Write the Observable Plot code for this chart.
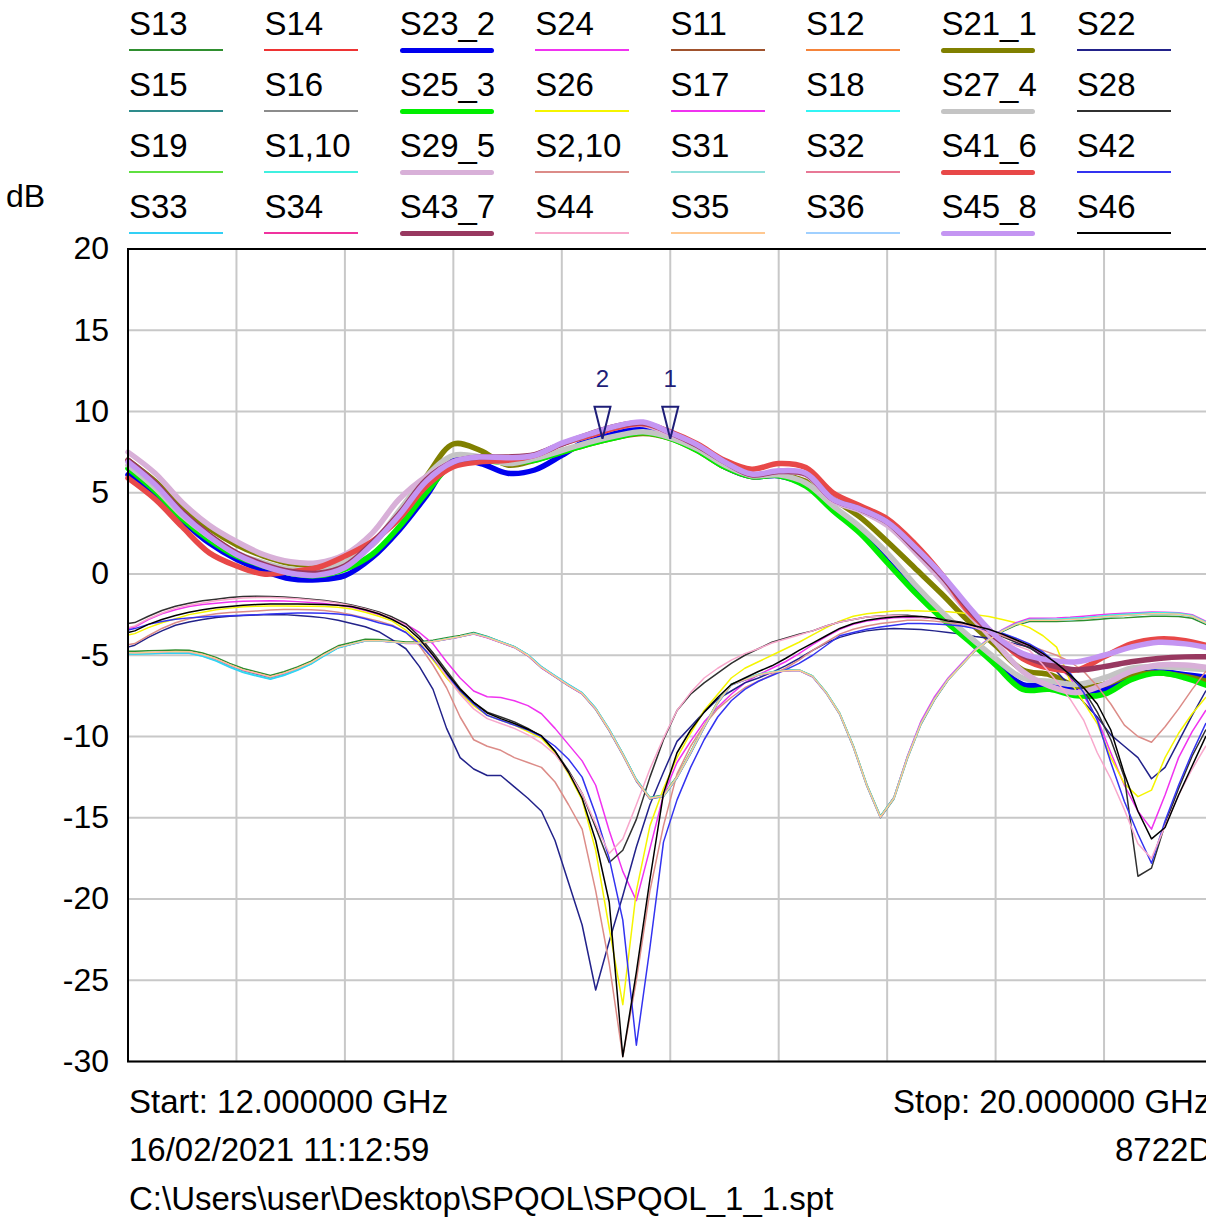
<!DOCTYPE html>
<html>
<head>
<meta charset="utf-8">
<script src="https://cdn.jsdelivr.net/npm/d3@7"></script>
<script src="https://cdn.jsdelivr.net/npm/@observablehq/plot@0.6"></script>
<style>
  html, body { margin: 0; padding: 0; background: #fff; overflow: hidden; }
  body { width: 1206px; height: 1221px; position: relative; font-family: "Liberation Sans", Arial, sans-serif; color: #000; }
  #legend { position: absolute; left: 0; top: 0; width: 1206px; height: 236px; }
  .lg-name, .foot, .unit { position: absolute; white-space: nowrap; }
  .lg-name, .foot { font-size: 33px; line-height: 33px; }
  .unit { font-size: 32px; line-height: 32px; }
  .lg-swatch { position: absolute; width: 94px; }
  #chart { position: absolute; left: 0; top: 236px; width: 1224px; }
  #chart svg { max-width: none !important; }
</style>
</head>
<body>
<div id="legend"></div>
<div id="chart"></div>
<div id="footer"></div>
<script>
// Sweep grids (GHz): transmission traces every 0.2 GHz, reflection / isolation traces every 0.1 GHz
const sweepThick = d3.range(41).map(i => +(12 + 0.2 * i).toFixed(2));
const sweepThin = [12.0, ...d3.range(80).map(i => +(12.05 + 0.1 * i).toFixed(2))];

// Trace names and colours, in legend order (4 rows x 8 columns)
const legendNames = ["S13","S14","S23_2","S24","S11","S12","S21_1","S22",
                     "S15","S16","S25_3","S26","S17","S18","S27_4","S28",
                     "S19","S1,10","S29_5","S2,10","S31","S32","S41_6","S42",
                     "S33","S34","S43_7","S44","S35","S36","S45_8","S46"];
const legendColors = ["#2f8f2f","#ee3333","#0000ee","#f033f0","#a0522d","#f5843a","#808000","#22228a",
                      "#2e8c8c","#8c8c8c","#00ee00","#f5f500","#f033f0","#33f5f5","#c4c4c4","#303030",
                      "#5fe040","#40f0e0","#d8b0d8","#dc8c88","#90e0dc","#e87896","#e84848","#3333f0",
                      "#33d0f5","#f0339f","#983860","#f8a8cc","#ffc890","#a0d0ff","#c495f2","#000000"];

// Y axis ticks (dB) and vertical divisions (GHz)
const yTicks = [20, 15, 10, 5, 0, -5, -10, -15, -20, -25, -30];
const xDivisions = [12, 12.8, 13.6, 14.4, 15.2, 16, 16.8, 17.6, 18.4, 19.2, 20];

// Markers
const markerFreq = [16.0, 15.5];
const markerDb = [8.32, 8.32];
const markerLabel = ["1", "2"];

// Text under the graticule
const footerStart = "Start: 12.000000 GHz";
const footerStop = "Stop: 20.000000 GHz";
const footerDate = "16/02/2021 11:12:59";
const footerModel = "8722D";
const footerFile = "C:\\Users\\user\\Desktop\\SPQOL\\SPQOL_1_1.spt";

// ---- transmission traces (dB), on sweepThick ----
const s21_1 = [7.0, 5.7, 4.1, 2.8, 1.8, 1.1, 0.65, 0.6, 1.0, 1.8,
               3.8, 6.0, 8.0, 7.6, 6.7, 7.0, 7.5, 8.0, 8.4, 8.65,
               8.35, 7.6, 6.6, 6.0, 6.1, 5.7, 4.6, 3.5, 2.0, 0.4,
               -1.2, -2.9, -4.4, -5.9, -6.2, -6.9, -6.8, -6.2, -6.1, -6.3,
               -6.7];
const s23_2 = [6.1, 4.9, 3.3, 1.9, 0.9, 0.2, -0.3, -0.35, -0.1, 1.0,
               2.7, 4.8, 7.0, 6.8, 6.2, 6.4, 7.3, 8.3, 8.8, 9.0,
               8.5, 7.7, 6.6, 6.0, 6.05, 5.45, 4.0, 2.6, 0.8, -1.0,
               -2.6, -4.0, -5.5, -6.8, -6.8, -7.2, -7.1, -6.3, -6.0, -6.2,
               -6.4];
const s25_3 = [6.5, 5.1, 3.4, 2.1, 1.1, 0.5, 0.05, -0.1, 0.3, 1.2,
               2.9, 5.0, 6.8, 7.0, 6.85, 7.0, 7.5, 8.0, 8.4, 8.7,
               8.35, 7.6, 6.6, 6.0, 6.05, 5.4, 3.9, 2.5, 0.7, -1.1,
               -2.7, -4.1, -5.6, -7.1, -7.1, -7.5, -7.4, -6.5, -6.1, -6.4,
               -7.0];
const s27_4 = [6.7, 5.3, 3.6, 2.3, 1.3, 0.7, 0.3, 0.3, 0.8, 1.8,
               3.9, 6.0, 7.3, 7.2, 6.8, 7.1, 7.6, 8.1, 8.5, 8.75,
               8.4, 7.7, 6.7, 6.05, 6.1, 5.6, 4.2, 2.9, 1.3, -0.6,
               -2.3, -3.8, -5.2, -6.4, -6.6, -6.8, -6.4, -5.8, -5.7, -5.8,
               -5.9];
const s29_5 = [7.5, 6.2, 4.4, 3.0, 2.0, 1.2, 0.75, 0.7, 1.2, 2.5,
               4.6, 6.0, 6.9, 7.1, 7.1, 7.3, 8.0, 8.5, 9.0, 9.2,
               8.6, 7.9, 6.9, 6.1, 6.3, 6.1, 4.5, 3.9, 3.0, 1.4,
               -0.4, -2.4, -4.2, -6.0, -6.9, -7.3, -6.8, -6.0, -5.6, -5.6,
               -5.8];
const s41_6 = [5.9, 4.6, 2.9, 1.3, 0.5, 0.0, 0.15, 0.4, 1.1, 2.0,
               3.4, 5.4, 6.6, 6.9, 7.0, 7.3, 8.0, 8.5, 9.0, 9.25,
               8.75, 8.0, 7.0, 6.45, 6.8, 6.55, 5.0, 4.2, 3.4, 1.9,
               0.0, -2.3, -3.8, -5.2, -5.8, -5.9, -5.1, -4.3, -4.0, -4.1,
               -4.5];
const s43_7 = [7.0, 5.6, 3.8, 2.4, 1.3, 0.6, 0.15, 0.05, 0.5, 1.9,
               3.7, 5.8, 6.9, 7.2, 7.2, 7.35, 8.0, 8.6, 9.1, 9.3,
               8.7, 7.9, 6.9, 6.1, 6.3, 6.15, 4.6, 4.0, 3.2, 1.6,
               -0.1, -2.1, -3.9, -5.0, -5.6, -5.9, -5.7, -5.4, -5.2, -5.1,
               -5.1];
const s45_8 = [6.9, 5.5, 3.7, 2.3, 1.2, 0.5, 0.05, -0.07, 0.4, 1.8,
               3.6, 5.7, 6.9, 7.2, 7.15, 7.3, 8.05, 8.6, 9.1, 9.35,
               8.7, 7.95, 6.9, 6.15, 6.35, 6.2, 4.6, 4.0, 3.2, 1.7,
               0.0, -2.0, -3.8, -4.9, -5.3, -5.4, -5.0, -4.5, -4.2, -4.3,
               -4.6];

// ---- isolation traces (dB), on sweepThin ----
const s13 = [-4.75, -4.76, -4.73, -4.7, -4.68, -4.69, -4.86, -5.13, -5.5, -5.82,
             -6.03, -6.25, -6.02, -5.72, -5.36, -4.86, -4.42, -4.22, -4.02, -4.03,
             -4.1, -4.18, -4.17, -4.07, -3.92, -3.78, -3.6, -3.85, -4.17, -4.47,
             -4.98, -5.72, -6.28, -6.82, -7.33, -8.27, -9.58, -11.05, -12.65, -13.75,
             -13.6, -12.45, -10.95, -9.36, -7.86, -6.78, -6.48, -6.19, -6.04, -5.94,
             -5.91, -6.28, -7.27, -8.57, -10.56, -12.95, -14.9, -13.75, -11.25, -9.16,
             -7.66, -6.48, -5.58, -4.7, -4.07, -3.55, -3.16, -2.92, -2.93, -2.93,
             -2.9, -2.86, -2.8, -2.73, -2.7, -2.65, -2.6, -2.6, -2.62, -2.72, -3.1];
const s15 = [-4.88, -4.89, -4.86, -4.83, -4.8, -4.81, -4.98, -5.26, -5.63, -5.96,
             -6.17, -6.38, -6.15, -5.84, -5.48, -4.97, -4.52, -4.31, -4.11, -4.11,
             -4.18, -4.26, -4.26, -4.16, -4.01, -3.86, -3.68, -3.91, -4.22, -4.52,
             -5.03, -5.78, -6.33, -6.88, -7.38, -8.34, -9.65, -11.15, -12.75, -13.85,
             -13.7, -12.55, -11.05, -9.45, -7.95, -6.84, -6.53, -6.22, -6.06, -5.96,
             -5.93, -6.32, -7.33, -8.64, -10.65, -13.05, -15.0, -13.85, -11.35, -9.25,
             -7.74, -6.53, -5.62, -4.71, -4.05, -3.49, -3.08, -2.82, -2.82, -2.81,
             -2.77, -2.72, -2.65, -2.57, -2.52, -2.47, -2.42, -2.43, -2.46, -2.58, -2.98];
const s17 = [-4.87, -4.88, -4.85, -4.82, -4.79, -4.8, -4.97, -5.24, -5.6, -5.92,
             -6.12, -6.34, -6.12, -5.82, -5.47, -4.97, -4.52, -4.32, -4.12, -4.12,
             -4.19, -4.27, -4.27, -4.17, -4.02, -3.87, -3.69, -3.92, -4.22, -4.52,
             -5.02, -5.77, -6.32, -6.87, -7.37, -8.32, -9.62, -11.12, -12.72, -13.82,
             -13.67, -12.52, -11.02, -9.42, -7.92, -6.82, -6.52, -6.22, -6.07, -5.97,
             -5.94, -6.32, -7.32, -8.62, -10.62, -13.02, -14.97, -13.75, -11.2, -9.05,
             -7.55, -6.4, -5.5, -4.62, -3.98, -3.42, -3.0, -2.72, -2.72, -2.7,
             -2.66, -2.6, -2.53, -2.46, -2.42, -2.38, -2.34, -2.35, -2.38, -2.5, -2.9];
const s1_10 = [-4.9, -4.92, -4.9, -4.87, -4.85, -4.87, -5.05, -5.33, -5.7, -6.03,
               -6.24, -6.45, -6.22, -5.9, -5.52, -5.0, -4.53, -4.31, -4.1, -4.1,
               -4.17, -4.25, -4.24, -4.14, -3.99, -3.84, -3.66, -3.88, -4.18, -4.48,
               -4.97, -5.72, -6.27, -6.82, -7.32, -8.27, -9.57, -11.07, -12.67, -13.77,
               -13.63, -12.48, -10.98, -9.38, -7.88, -6.78, -6.47, -6.17, -6.02, -5.92,
               -5.9, -6.27, -7.27, -8.57, -10.57, -12.97, -14.92, -13.77, -11.27, -9.17,
               -7.67, -6.47, -5.57, -4.67, -4.02, -3.47, -3.07, -2.8, -2.79, -2.78,
               -2.73, -2.68, -2.61, -2.53, -2.48, -2.43, -2.38, -2.38, -2.42, -2.55, -2.95];
const s33 = [-4.92, -4.93, -4.91, -4.88, -4.86, -4.88, -5.07, -5.36, -5.74, -6.07,
             -6.28, -6.48, -6.25, -5.93, -5.55, -5.03, -4.55, -4.33, -4.12, -4.11,
             -4.18, -4.26, -4.25, -4.15, -4.0, -3.84, -3.65, -3.87, -4.17, -4.47,
             -4.96, -5.7, -6.25, -6.8, -7.3, -8.25, -9.55, -11.05, -12.65, -13.78,
             -13.68, -12.52, -11.02, -9.42, -7.92, -6.82, -6.5, -6.2, -6.04, -5.94,
             -5.92, -6.3, -7.3, -8.6, -10.6, -13.0, -14.93, -13.8, -11.3, -9.2,
             -7.7, -6.5, -5.6, -4.7, -4.05, -3.5, -3.1, -2.85, -2.85, -2.85,
             -2.81, -2.76, -2.69, -2.61, -2.56, -2.51, -2.45, -2.46, -2.49, -2.62, -3.02];
const s35 = [-4.85, -4.86, -4.83, -4.8, -4.77, -4.78, -4.95, -5.22, -5.58, -5.9,
             -6.1, -6.32, -6.1, -5.8, -5.45, -4.95, -4.5, -4.3, -4.1, -4.1,
             -4.17, -4.25, -4.25, -4.15, -4.0, -3.85, -3.67, -3.9, -4.2, -4.5,
             -5.0, -5.75, -6.3, -6.85, -7.35, -8.3, -9.6, -11.1, -12.7, -13.8,
             -13.65, -12.5, -11.0, -9.4, -7.9, -6.8, -6.5, -6.2, -6.05, -5.95,
             -5.92, -6.3, -7.3, -8.6, -10.6, -13.0, -14.95, -13.8, -11.3, -9.2,
             -7.7, -6.5, -5.6, -4.7, -4.05, -3.5, -3.1, -2.84, -2.84, -2.84,
             -2.8, -2.75, -2.68, -2.6, -2.55, -2.5, -2.44, -2.45, -2.48, -2.6, -3.0];

// ---- reflection traces (dB), on sweepThin ----
const s22 = [-4.5, -4.38, -3.9, -3.5, -3.15, -2.95, -2.8, -2.68, -2.6, -2.55,
             -2.52, -2.5, -2.5, -2.55, -2.62, -2.7, -2.85, -3.05, -3.25, -3.55,
             -4.05, -4.6, -5.7, -7.1, -9.5, -11.3, -12.0, -12.4, -12.4, -13.1,
             -13.8, -14.6, -16.4, -19.0, -21.6, -25.6, -22.6, -19.8, -16.8, -14.2,
             -12.2, -10.3, -9.4, -8.5, -7.7, -7.2, -6.7, -6.4, -6.05, -5.65,
             -5.2, -4.7, -4.25, -3.9, -3.67, -3.5, -3.4, -3.36, -3.38, -3.42,
             -3.5, -3.6, -3.7, -3.85, -3.95, -4.1, -4.3, -4.5, -5.1, -6.0,
             -6.9, -7.9, -8.8, -9.9, -10.6, -11.3, -12.6, -11.9, -10.3, -8.7, -7.2];
const s42 = [-3.45, -3.36, -3.1, -2.92, -2.78, -2.7, -2.64, -2.6, -2.57, -2.54,
             -2.5, -2.46, -2.43, -2.4, -2.4, -2.42, -2.46, -2.55, -2.75, -3.0,
             -3.2, -3.6, -4.3, -5.2, -6.2, -7.2, -8.0, -8.7, -9.0, -9.3,
             -9.6, -10.0, -10.6, -11.4, -12.5, -14.8, -17.5, -21.3, -29.0, -23.0,
             -16.5, -13.9, -11.9, -10.2, -8.8, -7.8, -7.1, -6.6, -6.25, -5.9,
             -5.5, -5.0, -4.4, -3.8, -3.6, -3.4, -3.26, -3.15, -3.05, -3.05,
             -3.08, -3.12, -3.2, -3.35, -3.5, -3.65, -3.95, -4.3, -4.8, -5.5,
             -6.1, -7.3, -9.0, -11.6, -14.0, -16.0, -17.8, -15.2, -13.0, -11.0, -9.2];
const s2_10 = [-4.35, -4.28, -3.8, -3.35, -3.0, -2.75, -2.58, -2.45, -2.37, -2.32,
               -2.27, -2.22, -2.19, -2.19, -2.2, -2.25, -2.35, -2.5, -2.7, -2.9,
               -3.15, -3.6, -4.4, -5.6, -7.0, -8.8, -10.2, -10.6, -10.85, -11.3,
               -11.6, -11.9, -12.8, -14.2, -15.7, -19.5, -24.0, -29.7, -25.0, -19.5,
               -15.5, -12.3, -10.6, -9.3, -8.3, -7.6, -7.0, -6.6, -6.2, -5.8,
               -5.3, -4.7, -4.2, -3.7, -3.4, -3.2, -3.05, -2.95, -2.85, -2.85,
               -2.9, -3.0, -3.1, -3.3, -3.5, -3.8, -4.1, -4.4, -4.7, -5.0,
               -5.4, -6.0, -6.9, -8.0, -9.3, -10.0, -10.35, -9.4, -8.3, -7.1, -6.0];
const s26 = [-3.75, -3.67, -3.3, -3.0, -2.75, -2.5, -2.35, -2.2, -2.1, -2.02,
             -1.98, -1.97, -1.97, -1.98, -1.99, -2.0, -2.05, -2.15, -2.35, -2.6,
             -2.9, -3.45, -4.2, -5.3, -6.4, -7.3, -8.1, -8.7, -9.0, -9.3,
             -9.7, -10.1, -11.0, -12.3, -13.9, -17.0, -21.8, -26.5, -19.5, -15.5,
             -13.2, -11.3, -9.8, -8.4, -7.4, -6.4, -5.8, -5.4, -5.0, -4.6,
             -4.2, -3.75, -3.3, -2.9, -2.6, -2.45, -2.35, -2.27, -2.25, -2.27,
             -2.3, -2.32, -2.4, -2.5, -2.62, -2.8, -3.0, -3.3, -3.8, -4.5,
             -6.6, -7.9, -9.2, -11.3, -12.9, -13.7, -13.3, -11.3, -9.8, -8.6, -7.6];
const s24 = [-3.35, -3.26, -2.8, -2.45, -2.2, -2.0, -1.88, -1.8, -1.72, -1.68,
             -1.66, -1.65, -1.66, -1.7, -1.75, -1.82, -1.92, -2.05, -2.25, -2.5,
             -2.75, -3.1, -3.6, -4.3, -5.4, -6.4, -7.2, -7.55, -7.6, -7.8,
             -8.1, -8.6, -9.5, -10.5, -11.5, -13.0, -15.8, -18.3, -20.1, -16.9,
             -13.6, -11.6, -10.3, -9.1, -8.2, -7.4, -6.7, -6.2, -5.8, -5.4,
             -4.9, -4.35, -3.85, -3.4, -3.1, -2.9, -2.78, -2.7, -2.66, -2.68,
             -2.75, -2.85, -3.0, -3.2, -3.45, -3.75, -4.1, -4.5, -5.0, -5.6,
             -6.4, -7.5, -8.9, -11.0, -13.0, -14.6, -15.7, -13.6, -11.3, -9.7, -8.4];
const s44 = [-3.3, -3.2, -2.75, -2.4, -2.1, -1.92, -1.78, -1.65, -1.55, -1.48,
             -1.45, -1.45, -1.47, -1.52, -1.6, -1.68, -1.8, -1.95, -2.15, -2.4,
             -2.75, -3.2, -4.0, -5.1, -6.3, -7.4, -8.3, -8.9, -9.2, -9.5,
             -9.9, -10.4, -11.1, -12.2, -13.5, -15.4, -17.2, -16.3, -14.2, -12.0,
             -10.1, -8.4, -7.3, -6.4, -5.8, -5.3, -4.9, -4.6, -4.25, -4.0,
             -3.75, -3.5, -3.2, -2.95, -2.8, -2.65, -2.6, -2.56, -2.58, -2.65,
             -2.75, -2.9, -3.05, -3.3, -3.65, -4.0, -4.4, -4.7, -5.6, -6.6,
             -7.7, -9.0, -11.0, -12.6, -14.5, -16.6, -17.5, -15.5, -13.6, -12.0, -10.6];
const s28 = [-3.05, -2.99, -2.6, -2.25, -1.98, -1.8, -1.65, -1.55, -1.45, -1.38,
             -1.37, -1.38, -1.41, -1.47, -1.55, -1.63, -1.75, -1.9, -2.1, -2.33,
             -2.65, -3.05, -3.85, -4.85, -5.95, -7.05, -7.9, -8.5, -8.8, -9.1,
             -9.5, -10.0, -10.9, -12.1, -13.5, -15.6, -17.75, -17.0, -15.1, -12.5,
             -10.2, -8.4, -7.4, -6.7, -6.1, -5.5, -5.0, -4.6, -4.2, -3.95,
             -3.7, -3.5, -3.2, -2.95, -2.8, -2.65, -2.58, -2.54, -2.54, -2.65,
             -2.72, -2.85, -2.97, -3.25, -3.55, -3.85, -4.2, -4.55, -5.05, -5.6,
             -6.3, -7.15, -8.5, -10.2, -12.5, -18.6, -18.1, -15.4, -13.2, -11.2, -9.6];
const s46 = [-3.6, -3.5, -3.1, -2.8, -2.55, -2.35, -2.2, -2.08, -2.0, -1.92,
             -1.88, -1.85, -1.85, -1.85, -1.86, -1.88, -1.92, -2.0, -2.2, -2.45,
             -2.8, -3.25, -4.0, -5.0, -6.1, -7.1, -7.9, -8.55, -8.9, -9.2,
             -9.55, -9.95, -10.9, -12.2, -13.8, -16.4, -20.2, -29.7, -24.5, -18.8,
             -13.5, -11.0, -9.6, -8.5, -7.6, -6.8, -6.4, -6.0, -5.65, -5.2,
             -4.7, -4.25, -3.8, -3.35, -3.05, -2.85, -2.72, -2.65, -2.6, -2.62,
             -2.7, -2.9, -3.0, -3.2, -3.4, -3.7, -4.05, -4.4, -4.9, -5.5,
             -6.2, -7.0, -8.0, -9.6, -12.3, -14.6, -16.3, -15.6, -13.6, -11.8, -10.0];

const seriesData = {
  "S13": s13, "S23_2": s23_2, "S24": s24, "S21_1": s21_1, "S22": s22,
  "S15": s15, "S25_3": s25_3, "S26": s26, "S17": s17, "S27_4": s27_4, "S28": s28,
  "S1,10": s1_10, "S29_5": s29_5, "S2,10": s2_10, "S41_6": s41_6, "S42": s42,
  "S33": s33, "S43_7": s43_7, "S44": s44, "S35": s35, "S45_8": s45_8, "S46": s46
};

const colorOf = Object.fromEntries(legendNames.map((n, i) => [n, legendColors[i]]));
const isThick = n => n.includes("_");

// ---- legend above the graticule ----
const legend = document.getElementById("legend");
legendNames.forEach((n, i) => {
  const col = i % 8, row = Math.floor(i / 8);
  const left = 129 + col * 135.4;
  const label = document.createElement("div");
  label.className = "lg-name";
  label.textContent = n;
  label.style.left = left + "px";
  label.style.top = (7 + row * 61) + "px";
  const h = isThick(n) ? 5 : 2;
  const sw = document.createElement("div");
  sw.className = "lg-swatch";
  sw.style.left = left + "px";
  sw.style.top = (50 + row * 61 - h / 2) + "px";
  sw.style.height = h + "px";
  sw.style.background = colorOf[n];
  sw.style.borderRadius = isThick(n) ? "2.5px" : "0";
  legend.append(label, sw);
});
const unit = document.createElement("div");
unit.className = "unit";
unit.textContent = "dB";
unit.style.left = "6px";
unit.style.top = "180px";
legend.append(unit);

// ---- traces: smooth thick transmission traces, straight segments for the rest ----
const traceMarks = legendNames.filter(n => seriesData[n]).map(n => {
  const thick = isThick(n);
  const grid = thick ? sweepThick : sweepThin;
  const vals = seriesData[n];
  const rows = vals.slice(0, grid.length).map((v, i) => ({f: grid[i], v}));
  return Plot.line(rows, {
    x: "f", y: "v",
    curve: thick ? "catmull-rom" : "linear",
    stroke: colorOf[n],
    strokeWidth: thick ? 5.5 : 1.5,
    strokeLinejoin: "round",
    strokeLinecap: "round"
  });
});

// marker: tall, narrow, downward triangle whose tip sits on the trace
const markerTriangle = {
  draw(ctx) {
    ctx.moveTo(0, 0);
    ctx.lineTo(-8, -32);
    ctx.lineTo(8, -32);
    ctx.closePath();
  }
};
const markerRows = markerFreq.map((f, i) => ({f, v: markerDb[i], label: markerLabel[i]}));

const chart = Plot.plot({
  width: 1224,
  height: 845,
  marginLeft: 127.5,
  marginRight: 12,
  marginTop: 12.5,
  marginBottom: 20,
  style: {fontFamily: '"Liberation Sans", Arial, sans-serif', background: "white", overflow: "visible", maxWidth: "none"},
  x: {domain: [12, 20], axis: null},
  y: {domain: [-30, 20], axis: null},
  marks: [
    Plot.gridX(xDivisions, {stroke: "#c8c8c8", strokeOpacity: 1, strokeWidth: 2}),
    Plot.gridY(yTicks, {stroke: "#c8c8c8", strokeOpacity: 1, strokeWidth: 2}),
    ...traceMarks,
    Plot.frame({stroke: "#000", strokeWidth: 2}),
    Plot.axisY(yTicks, {tickSize: 0, tickPadding: 19, fontSize: 32, tickFormat: d => String(d), label: null, fill: "#000"}),
    Plot.dot(markerRows, {x: "f", y: "v", symbol: markerTriangle, r: 5, stroke: "#1e1e78", strokeWidth: 2, fill: "none"}),
    Plot.text(markerRows, {x: "f", y: "v", text: "label", dy: -59, fill: "#1e1e78", fontSize: 24})
  ]
});
chart.style.maxWidth = "none";
chart.setAttribute("width", 1224);
chart.setAttribute("height", 845);
document.getElementById("chart").append(chart);

// ---- annotation lines under the graticule ----
const footer = document.getElementById("footer");
[[footerStart, 129, 1085], [footerStop, 893, 1085], [footerDate, 129, 1133], [footerModel, 1115, 1133], [footerFile, 129, 1182]]
  .forEach(([t, left, top]) => {
    const d = document.createElement("div");
    d.className = "foot";
    d.textContent = t;
    d.style.left = left + "px";
    d.style.top = top + "px";
    footer.append(d);
  });
</script>
</body>
</html>
